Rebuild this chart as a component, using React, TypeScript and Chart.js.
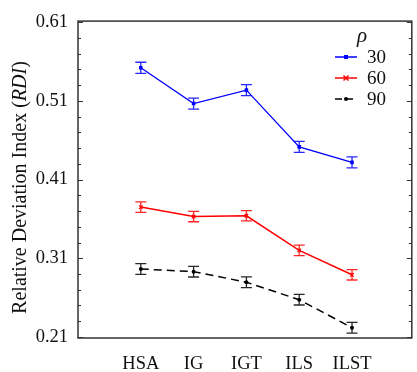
import React, { useEffect, useRef } from "react";
import { Chart, registerables } from "chart.js";

Chart.register(...registerables);

const categories = ["HSA", "IG", "IGT", "ILS", "ILST"];
const seriesLabels = ["30", "60", "90"];
const rho30 = [0.552, 0.5065, 0.5236, 0.4515, 0.4318];
const rho60 = [0.375, 0.363, 0.364, 0.32, 0.289];
const rho90 = [0.2964, 0.293, 0.2796, 0.2574, 0.2217];
const err30 = [0.007, 0.007, 0.007, 0.007, 0.007];
const err60 = [0.0066, 0.0066, 0.0066, 0.0066, 0.0066];
const err90 = [0.0068, 0.0068, 0.0068, 0.0068, 0.0068];
const yTicks = [0.21, 0.31, 0.41, 0.51, 0.61];
const yMinorTicks = [0.23, 0.25, 0.27, 0.29, 0.33, 0.35, 0.37, 0.39, 0.43, 0.45, 0.47, 0.49, 0.53, 0.55, 0.57, 0.59];

const FONT = "'Liberation Serif', 'DejaVu Serif', serif";
const colors = ["#0000ff", "#ff0000", "#000000"];
const errs = [err30, err60, err90];

const boxPlugin = {
  id: "boxPlugin",
  afterDraw(chart: any) {
    const { ctx, chartArea: a, scales } = chart;
    const ys = scales.y;
    ctx.save();
    ctx.strokeStyle = "#333";
    ctx.lineWidth = 1.5;
    ctx.strokeRect(a.left, a.top, a.right - a.left, a.bottom - a.top);
    ctx.lineWidth = 1;
    const tick = (v: number, len: number) => {
      const y = Math.round(ys.getPixelForValue(v)) + 0.5;
      ctx.beginPath();
      ctx.moveTo(a.left, y);
      ctx.lineTo(a.left + len, y);
      ctx.moveTo(a.right, y);
      ctx.lineTo(a.right - len, y);
      ctx.stroke();
    };
    yTicks.forEach((v) => tick(v, 5));
    yMinorTicks.forEach((v) => tick(v, 3));
    ctx.restore();
  },
};

const errorPlugin = {
  id: "errorPlugin",
  afterDatasetsDraw(chart: any) {
    const { ctx, scales } = chart;
    const ys = scales.y;
    ctx.save();
    chart.data.datasets.forEach((ds: any, di: number) => {
      const meta = chart.getDatasetMeta(di);
      ctx.strokeStyle = colors[di];
      ctx.globalAlpha = 0.85;
      ctx.lineWidth = 1.3;
      meta.data.forEach((pt: any, i: number) => {
        const v = ds.data[i].y;
        const e = errs[di][i];
        const y1 = ys.getPixelForValue(v + e);
        const y2 = ys.getPixelForValue(v - e);
        const x = pt.x;
        ctx.beginPath();
        ctx.moveTo(x, y1);
        ctx.lineTo(x, y2);
        ctx.moveTo(x - 5.5, y1);
        ctx.lineTo(x + 5.5, y1);
        ctx.moveTo(x - 5.5, y2);
        ctx.lineTo(x + 5.5, y2);
        ctx.stroke();
      });
    });
    ctx.restore();
  },
};

const titlePlugin = {
  id: "titlePlugin",
  afterDraw(chart: any) {
    const { ctx, chartArea: a } = chart;
    const parts = [
      { t: "Relative Deviation Index (", f: `20px ${FONT}` },
      { t: "RDI", f: `italic 20px ${FONT}` },
      { t: ")", f: `20px ${FONT}` },
    ];
    ctx.save();
    let total = 0;
    parts.forEach((p) => {
      ctx.font = p.f;
      total += ctx.measureText(p.t).width;
    });
    const cy = (a.top + a.bottom) / 2 + 8;
    ctx.translate(21, cy);
    ctx.rotate(-Math.PI / 2);
    ctx.fillStyle = "#111";
    ctx.textBaseline = "middle";
    let x = -total / 2;
    parts.forEach((p) => {
      ctx.font = p.f;
      ctx.fillText(p.t, x, 0);
      x += ctx.measureText(p.t).width;
    });
    ctx.restore();
  },
};

const legendPlugin = {
  id: "legendPlugin",
  afterDraw(chart: any) {
    const { ctx } = chart;
    ctx.save();
    ctx.fillStyle = "#111";
    ctx.font = `italic 21px ${FONT}`;
    ctx.textAlign = "center";
    ctx.textBaseline = "middle";
    ctx.fillText("ρ", 362, 36);
    const rows = [57, 78, 99];
    ctx.textAlign = "left";
    ctx.font = `19px ${FONT}`;
    chart.data.datasets.forEach((ds: any, i: number) => {
      const y = rows[i];
      ctx.strokeStyle = colors[i];
      ctx.lineWidth = 1.5;
      ctx.setLineDash(i === 2 ? [7, 4] : []);
      ctx.beginPath();
      ctx.moveTo(335, y);
      ctx.lineTo(357, y);
      ctx.stroke();
      ctx.setLineDash([]);
      ctx.fillStyle = colors[i];
      if (i === 0) ctx.fillRect(344, y - 2, 4, 4);
      else if (i === 1) {
        ctx.beginPath();
        ctx.moveTo(343.5, y - 2.5);
        ctx.lineTo(348.5, y + 2.5);
        ctx.moveTo(348.5, y - 2.5);
        ctx.lineTo(343.5, y + 2.5);
        ctx.stroke();
      } else {
        ctx.beginPath();
        ctx.arc(346, y, 2, 0, Math.PI * 2);
        ctx.fill();
      }
      ctx.fillStyle = "#111";
      ctx.fillText(seriesLabels[i], 367, y + 1);
    });
    ctx.restore();
  },
};

export default function App() {
  const ref = useRef<HTMLCanvasElement>(null);
  useEffect(() => {
    document.body.style.margin = "0";
    const mk = (arr: number[]) => arr.map((v, i) => ({ x: i + 1, y: v }));
    const chart = new Chart(ref.current!, {
      type: "line",
      data: {
        datasets: [
          {
            label: seriesLabels[0],
            data: mk(rho30),
            borderColor: colors[0],
            backgroundColor: colors[0],
            borderWidth: 1.3,
            pointStyle: "rect",
            pointRadius: 2.5,
            pointBorderWidth: 0,
          },
          {
            label: seriesLabels[1],
            data: mk(rho60),
            borderColor: colors[1],
            backgroundColor: colors[1],
            borderWidth: 1.5,
            pointStyle: "crossRot",
            pointRadius: 2.5,
            pointBorderWidth: 1.2,
          },
          {
            label: seriesLabels[2],
            data: mk(rho90),
            borderColor: colors[2],
            backgroundColor: colors[2],
            borderWidth: 1.5,
            borderDash: [8, 5],
            pointStyle: "circle",
            pointRadius: 2,
            pointBorderWidth: 0,
          },
        ],
      },
      options: {
        animation: false,
        responsive: false,
        layout: { padding: { left: 0, right: 4, top: 18, bottom: 0 } },
        plugins: { legend: { display: false }, tooltip: { enabled: false } },
        scales: {
          x: {
            type: "linear",
            min: -0.189,
            max: 6.132,
            grid: { display: false, drawTicks: false },
            border: { display: false },
            afterBuildTicks: (s: any) => {
              s.ticks = categories.map((_, i) => ({ value: i + 1 }));
            },
            afterFit: (s: any) => {
              s.height = 34;
            },
            ticks: {
              autoSkip: false,
              maxRotation: 0,
              padding: 15,
              color: "#111",
              font: { family: FONT, size: 18.5 },
              callback: (v: any) => categories[Math.round(Number(v)) - 1] ?? "",
            },
          },
          y: {
            type: "linear",
            min: 0.2087,
            max: 0.6113,
            grid: { display: false, drawTicks: false },
            border: { display: false },
            afterBuildTicks: (s: any) => {
              s.ticks = yTicks.map((v) => ({ value: v }));
            },
            afterFit: (s: any) => {
              s.width = 78;
            },
            ticks: {
              padding: 10,
              color: "#111",
              font: { family: FONT, size: 18.5 },
              callback: (v: any) => Number(v).toFixed(2),
            },
          },
        },
      },
      plugins: [errorPlugin, boxPlugin, titlePlugin, legendPlugin],
    } as any);
    return () => chart.destroy();
  }, []);
  return <canvas ref={ref} width={417} height={372} style={{ display: "block" }} />;
}
